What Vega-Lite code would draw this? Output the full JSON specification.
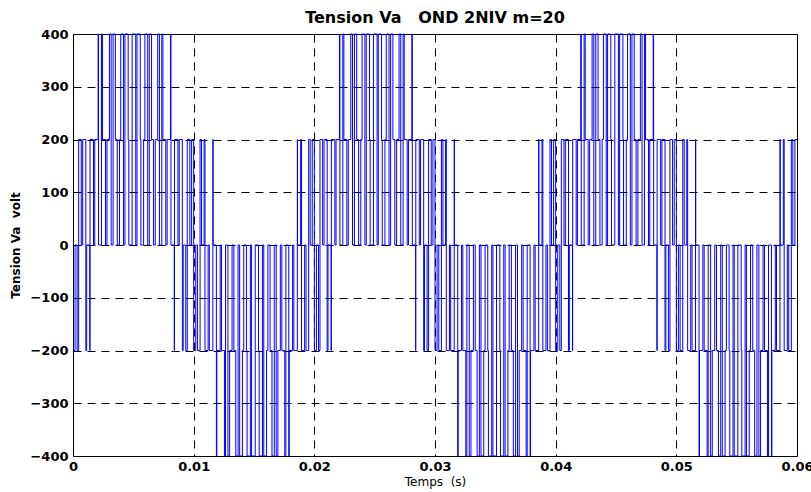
{
  "$schema": "https://vega.github.io/schema/vega-lite/v6.json",
  "width": 724,
  "height": 422,
  "autosize": {"type": "none"},
  "padding": {"left": 73, "top": 34, "right": 14, "bottom": 36},
  "background": "white",
  "title": {"text": "Tension Va\u00a0\u00a0\u00a0OND 2NIV m=20", "font": "DejaVu Sans", "fontSize": 16, "fontWeight": "bold", "color": "black", "anchor": "middle", "frame": "group", "offset": 2},
  "config": {"view": {"stroke": "black", "strokeWidth": 1, "fill": "white"}},
  "data": {"values": [
{"t":0,"v":-200},{"t":0.000173,"v":0},{"t":0.000345,"v":-200},{"t":0.000469,"v":200},{"t":0.000687,"v":0},{"t":0.000804,"v":200},{"t":0.001062,"v":-200},{"t":0.001134,"v":0},{"t":0.001391,"v":-200},{"t":0.001409,"v":200},{"t":0.0017,"v":0},{"t":0.001801,"v":200},{"t":0.002081,"v":400},{"t":0.002118,"v":0},{"t":0.002359,"v":400},{"t":0.002448,"v":200},{"t":0.002693,"v":0},{"t":0.002817,"v":200},{"t":0.003021,"v":400},{"t":0.003162,"v":0},{"t":0.003322,"v":400},{"t":0.003511,"v":200},{"t":0.003668,"v":0},{"t":0.003851,"v":200},{"t":0.003958,"v":400},{"t":0.00419,"v":0},{"t":0.004303,"v":400},{"t":0.004572,"v":200},{"t":0.004626,"v":0},{"t":0.0049,"v":400},{"t":0.0052,"v":0},{"t":0.005303,"v":400},{"t":0.005572,"v":200},{"t":0.005626,"v":0},{"t":0.005851,"v":200},{"t":0.005958,"v":400},{"t":0.00619,"v":0},{"t":0.006322,"v":400},{"t":0.006511,"v":200},{"t":0.006668,"v":0},{"t":0.006817,"v":200},{"t":0.007021,"v":400},{"t":0.007162,"v":0},{"t":0.007359,"v":400},{"t":0.007448,"v":200},{"t":0.007693,"v":0},{"t":0.007801,"v":200},{"t":0.008081,"v":400},{"t":0.008118,"v":0},{"t":0.008391,"v":-200},{"t":0.008409,"v":200},{"t":0.0087,"v":0},{"t":0.008804,"v":200},{"t":0.009062,"v":-200},{"t":0.009134,"v":0},{"t":0.009345,"v":-200},{"t":0.009469,"v":200},{"t":0.009687,"v":0},{"t":0.009827,"v":200},{"t":0.01,"v":-200},{"t":0.010173,"v":0},{"t":0.010313,"v":-200},{"t":0.010531,"v":200},{"t":0.010655,"v":0},{"t":0.010866,"v":200},{"t":0.010938,"v":-200},{"t":0.011196,"v":0},{"t":0.0113,"v":-200},{"t":0.011591,"v":200},{"t":0.011609,"v":0},{"t":0.011882,"v":-400},{"t":0.011919,"v":-200},{"t":0.012199,"v":0},{"t":0.012307,"v":-200},{"t":0.012552,"v":-400},{"t":0.012641,"v":0},{"t":0.012838,"v":-400},{"t":0.012979,"v":-200},{"t":0.013183,"v":0},{"t":0.013332,"v":-200},{"t":0.013489,"v":-400},{"t":0.013678,"v":0},{"t":0.01381,"v":-400},{"t":0.014042,"v":-200},{"t":0.014149,"v":0},{"t":0.014374,"v":-200},{"t":0.014428,"v":-400},{"t":0.014698,"v":0},{"t":0.0148,"v":-400},{"t":0.0151,"v":0},{"t":0.015374,"v":-200},{"t":0.015428,"v":-400},{"t":0.015698,"v":0},{"t":0.01581,"v":-400},{"t":0.016042,"v":-200},{"t":0.016149,"v":0},{"t":0.016332,"v":-200},{"t":0.01649,"v":-400},{"t":0.016678,"v":0},{"t":0.016838,"v":-400},{"t":0.016979,"v":-200},{"t":0.017183,"v":0},{"t":0.017307,"v":-200},{"t":0.017552,"v":-400},{"t":0.017641,"v":0},{"t":0.017882,"v":-400},{"t":0.017919,"v":-200},{"t":0.018199,"v":0},{"t":0.0183,"v":-200},{"t":0.018591,"v":200},{"t":0.018609,"v":0},{"t":0.018866,"v":200},{"t":0.018938,"v":-200},{"t":0.019196,"v":0},{"t":0.019313,"v":-200},{"t":0.019531,"v":200},{"t":0.019655,"v":0},{"t":0.019827,"v":200},
{"t":0.02,"v":-200},{"t":0.020173,"v":0},{"t":0.020345,"v":-200},{"t":0.020469,"v":200},{"t":0.020687,"v":0},{"t":0.020804,"v":200},{"t":0.021062,"v":-200},{"t":0.021134,"v":0},{"t":0.021391,"v":-200},{"t":0.021409,"v":200},{"t":0.0217,"v":0},{"t":0.021801,"v":200},{"t":0.022081,"v":400},{"t":0.022118,"v":0},{"t":0.022359,"v":400},{"t":0.022448,"v":200},{"t":0.022693,"v":0},{"t":0.022817,"v":200},{"t":0.023021,"v":400},{"t":0.023162,"v":0},{"t":0.023322,"v":400},{"t":0.023511,"v":200},{"t":0.023668,"v":0},{"t":0.023851,"v":200},{"t":0.023958,"v":400},{"t":0.02419,"v":0},{"t":0.024303,"v":400},{"t":0.024572,"v":200},{"t":0.024626,"v":0},{"t":0.0249,"v":400},{"t":0.0252,"v":0},{"t":0.025303,"v":400},{"t":0.025572,"v":200},{"t":0.025626,"v":0},{"t":0.025851,"v":200},{"t":0.025958,"v":400},{"t":0.02619,"v":0},{"t":0.026322,"v":400},{"t":0.026511,"v":200},{"t":0.026668,"v":0},{"t":0.026817,"v":200},{"t":0.027021,"v":400},{"t":0.027162,"v":0},{"t":0.027359,"v":400},{"t":0.027448,"v":200},{"t":0.027693,"v":0},{"t":0.027801,"v":200},{"t":0.028081,"v":400},{"t":0.028118,"v":0},{"t":0.028391,"v":-200},{"t":0.028409,"v":200},{"t":0.0287,"v":0},{"t":0.028804,"v":200},{"t":0.029062,"v":-200},{"t":0.029134,"v":0},{"t":0.029345,"v":-200},{"t":0.029469,"v":200},{"t":0.029687,"v":0},{"t":0.029827,"v":200},{"t":0.03,"v":-200},{"t":0.030173,"v":0},{"t":0.030313,"v":-200},{"t":0.030531,"v":200},{"t":0.030655,"v":0},{"t":0.030866,"v":200},{"t":0.030938,"v":-200},{"t":0.031196,"v":0},{"t":0.0313,"v":-200},{"t":0.031591,"v":200},{"t":0.031609,"v":0},{"t":0.031882,"v":-400},{"t":0.031919,"v":-200},{"t":0.032199,"v":0},{"t":0.032307,"v":-200},{"t":0.032552,"v":-400},{"t":0.032641,"v":0},{"t":0.032838,"v":-400},{"t":0.032979,"v":-200},{"t":0.033183,"v":0},{"t":0.033332,"v":-200},{"t":0.033489,"v":-400},{"t":0.033678,"v":0},{"t":0.03381,"v":-400},{"t":0.034042,"v":-200},{"t":0.034149,"v":0},{"t":0.034374,"v":-200},{"t":0.034428,"v":-400},{"t":0.034698,"v":0},{"t":0.0348,"v":-400},{"t":0.0351,"v":0},{"t":0.035374,"v":-200},{"t":0.035428,"v":-400},{"t":0.035698,"v":0},{"t":0.03581,"v":-400},{"t":0.036042,"v":-200},{"t":0.036149,"v":0},{"t":0.036332,"v":-200},{"t":0.03649,"v":-400},{"t":0.036678,"v":0},{"t":0.036838,"v":-400},{"t":0.036979,"v":-200},{"t":0.037183,"v":0},{"t":0.037307,"v":-200},{"t":0.037552,"v":-400},{"t":0.037641,"v":0},{"t":0.037882,"v":-400},{"t":0.037919,"v":-200},{"t":0.038199,"v":0},{"t":0.0383,"v":-200},{"t":0.038591,"v":200},{"t":0.038609,"v":0},{"t":0.038866,"v":200},{"t":0.038938,"v":-200},{"t":0.039196,"v":0},{"t":0.039313,"v":-200},{"t":0.039531,"v":200},{"t":0.039655,"v":0},{"t":0.039827,"v":200},
{"t":0.04,"v":-200},{"t":0.040173,"v":0},{"t":0.040345,"v":-200},{"t":0.040469,"v":200},{"t":0.040687,"v":0},{"t":0.040804,"v":200},{"t":0.041062,"v":-200},{"t":0.041134,"v":0},{"t":0.041391,"v":-200},{"t":0.041409,"v":200},{"t":0.0417,"v":0},{"t":0.041801,"v":200},{"t":0.042081,"v":400},{"t":0.042118,"v":0},{"t":0.042359,"v":400},{"t":0.042448,"v":200},{"t":0.042693,"v":0},{"t":0.042817,"v":200},{"t":0.043021,"v":400},{"t":0.043162,"v":0},{"t":0.043322,"v":400},{"t":0.043511,"v":200},{"t":0.043668,"v":0},{"t":0.043851,"v":200},{"t":0.043958,"v":400},{"t":0.04419,"v":0},{"t":0.044303,"v":400},{"t":0.044572,"v":200},{"t":0.044626,"v":0},{"t":0.0449,"v":400},{"t":0.0452,"v":0},{"t":0.045303,"v":400},{"t":0.045572,"v":200},{"t":0.045626,"v":0},{"t":0.045851,"v":200},{"t":0.045958,"v":400},{"t":0.04619,"v":0},{"t":0.046322,"v":400},{"t":0.046511,"v":200},{"t":0.046668,"v":0},{"t":0.046817,"v":200},{"t":0.047021,"v":400},{"t":0.047162,"v":0},{"t":0.047359,"v":400},{"t":0.047448,"v":200},{"t":0.047693,"v":0},{"t":0.047801,"v":200},{"t":0.048081,"v":400},{"t":0.048118,"v":0},{"t":0.048391,"v":-200},{"t":0.048409,"v":200},{"t":0.0487,"v":0},{"t":0.048804,"v":200},{"t":0.049062,"v":-200},{"t":0.049134,"v":0},{"t":0.049345,"v":-200},{"t":0.049469,"v":200},{"t":0.049687,"v":0},{"t":0.049827,"v":200},{"t":0.05,"v":-200},{"t":0.050173,"v":0},{"t":0.050313,"v":-200},{"t":0.050531,"v":200},{"t":0.050655,"v":0},{"t":0.050866,"v":200},{"t":0.050938,"v":-200},{"t":0.051196,"v":0},{"t":0.0513,"v":-200},{"t":0.051591,"v":200},{"t":0.051609,"v":0},{"t":0.051882,"v":-400},{"t":0.051919,"v":-200},{"t":0.052199,"v":0},{"t":0.052307,"v":-200},{"t":0.052552,"v":-400},{"t":0.052641,"v":0},{"t":0.052838,"v":-400},{"t":0.052979,"v":-200},{"t":0.053183,"v":0},{"t":0.053332,"v":-200},{"t":0.053489,"v":-400},{"t":0.053678,"v":0},{"t":0.05381,"v":-400},{"t":0.054042,"v":-200},{"t":0.054149,"v":0},{"t":0.054374,"v":-200},{"t":0.054428,"v":-400},{"t":0.054698,"v":0},{"t":0.0548,"v":-400},{"t":0.0551,"v":0},{"t":0.055374,"v":-200},{"t":0.055428,"v":-400},{"t":0.055698,"v":0},{"t":0.05581,"v":-400},{"t":0.056042,"v":-200},{"t":0.056149,"v":0},{"t":0.056332,"v":-200},{"t":0.05649,"v":-400},{"t":0.056678,"v":0},{"t":0.056838,"v":-400},{"t":0.056979,"v":-200},{"t":0.057183,"v":0},{"t":0.057307,"v":-200},{"t":0.057552,"v":-400},{"t":0.057641,"v":0},{"t":0.057882,"v":-400},{"t":0.057919,"v":-200},{"t":0.058199,"v":0},{"t":0.0583,"v":-200},{"t":0.058591,"v":200},{"t":0.058609,"v":0},{"t":0.058866,"v":200},{"t":0.058938,"v":-200},{"t":0.059196,"v":0},{"t":0.059313,"v":-200},{"t":0.059531,"v":200},{"t":0.059655,"v":0},{"t":0.059827,"v":200},{"t":0.06,"v":200}
  ]},
  "mark": {"type": "line", "interpolate": "step-after", "color": "#0000ff", "strokeWidth": 1},
  "encoding": {
    "x": {
      "field": "t", "type": "quantitative",
      "scale": {"domain": [0, 0.06], "nice": false, "zero": false},
      "axis": {
        "values": [0, 0.01, 0.02, 0.03, 0.04, 0.05, 0.06],
        "format": ".2~f",
        "title": "Temps\u00a0\u00a0(s)",
        "titleFont": "DejaVu Sans", "titleFontSize": 12, "titleFontWeight": "normal", "titleColor": "black", "titlePadding": 3,
        "labelFont": "DejaVu Sans", "labelFontSize": 13, "labelFontWeight": "bold", "labelColor": "black", "labelPadding": 4,
        "labelFlush": false, "labelOverlap": false, "labelBound": false,
        "ticks": false, "domain": false,
        "grid": true, "gridColor": "black", "gridDash": [8, 6], "gridWidth": 1, "gridOpacity": 1
      }
    },
    "y": {
      "field": "v", "type": "quantitative",
      "scale": {"domain": [-400, 400], "nice": false, "zero": false},
      "axis": {
        "values": [-400, -300, -200, -100, 0, 100, 200, 300, 400],
        "format": "d",
        "title": "Tension Va\u00a0\u00a0volt",
        "titleFont": "DejaVu Sans", "titleFontSize": 12, "titleFontWeight": "bold", "titleColor": "black",
        "titleAngle": -90, "titleX": -58, "titleY": 211, "titleAlign": "center", "titleBaseline": "middle",
        "labelFont": "DejaVu Sans", "labelFontSize": 13, "labelFontWeight": "bold", "labelColor": "black", "labelPadding": 5,
        "labelOverlap": false, "labelBound": false,
        "ticks": false, "domain": false,
        "grid": true, "gridColor": "black", "gridDash": [8, 6], "gridWidth": 1, "gridOpacity": 1
      }
    },
    "order": {"value": null}
  }
}
